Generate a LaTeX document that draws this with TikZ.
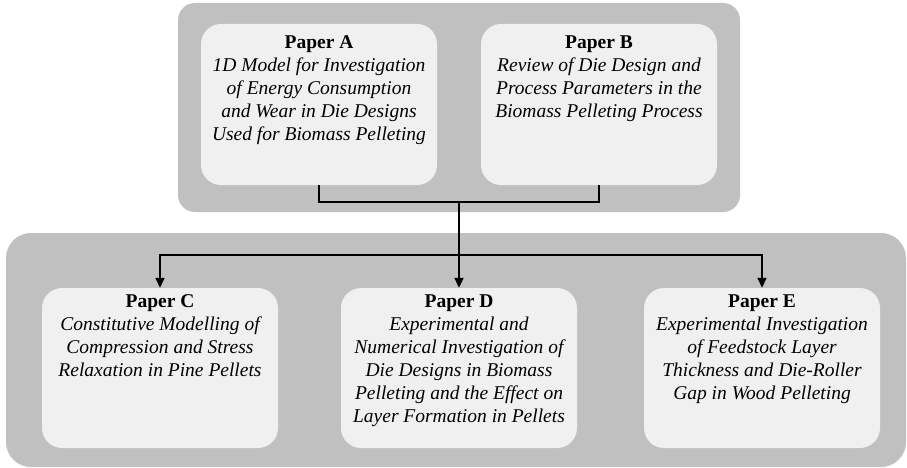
\documentclass[tikz,border=0pt]{standalone}
\usepackage{fontspec}
\setmainfont{LiberationSerif}[Extension=.ttf, UprightFont=*-Regular, BoldFont=*-Bold, ItalicFont=*-Italic, BoldItalicFont=*-BoldItalic]
\usetikzlibrary{arrows.meta}
\definecolor{contgray}{RGB}{192,192,192}
\definecolor{boxgray}{RGB}{240,240,240}
\tikzset{
  container/.style={fill=contgray, draw=none, inner sep=0pt},
  paperbox/.style={fill=boxgray, draw=none, rounded corners=20pt, minimum width=236pt, inner sep=0pt},
  ptext/.style={align=center, inner sep=0pt, anchor=north, font=\fontsize{19.5}{23}\selectfont},
  conn/.style={draw=black, line width=1.6pt},
  arr/.style={-{Triangle[length=10pt,width=9pt]}}
}
\begin{document}
\begin{tikzpicture}[x=1pt,y=-1pt]
\useasboundingbox (0,0) rectangle (907,468);
% containers
\node[container, rounded corners=17pt, minimum width=562pt, minimum height=209pt] (top) at (459,107.5) {};
\node[container, rounded corners=25pt, minimum width=900pt, minimum height=234pt] (bottom) at (456,350) {};
% paper boxes
\node[paperbox, minimum height=161pt] (A) at (319,104.5) {};
\node[paperbox, minimum height=161pt] (B) at (599,104.5) {};
\node[paperbox, minimum height=160pt] (C) at (160,368) {};
\node[paperbox, minimum height=160pt] (D) at (459,368) {};
\node[paperbox, minimum height=160pt] (E) at (762,368) {};
% texts
\node[ptext] (At) at ([yshift=-8pt]A.north) {\strut\textbf{Paper A}\\\itshape 1D Model for Investigation\\\itshape of Energy Consumption\\\itshape and Wear in Die Designs\\\itshape Used for Biomass Pelleting};
\node[ptext] (Bt) at ([yshift=-8pt]B.north) {\strut\textbf{Paper B}\\\itshape Review of Die Design and\\\itshape Process Parameters in the\\\itshape Biomass Pelleting Process};
\node[ptext] (Ct) at ([yshift=-3pt]C.north) {\strut\textbf{Paper C}\\\itshape Constitutive Modelling of\\\itshape Compression and Stress\\\itshape Relaxation in Pine Pellets};
\node[ptext] (Dt) at ([yshift=-3pt]D.north) {\strut\textbf{Paper D}\\\itshape Experimental and\\\itshape Numerical Investigation of\\\itshape Die Designs in Biomass\\\itshape Pelleting and the Effect on\\\itshape Layer Formation in Pellets};
\node[ptext] (Et) at ([yshift=-3pt]E.north) {\strut\textbf{Paper E}\\\itshape Experimental Investigation\\\itshape of Feedstock Layer\\\itshape Thickness and Die-Roller\\\itshape Gap in Wood Pelleting};
% connectors
\coordinate (jt) at (459,202);
\coordinate (jb) at (459,255);
\draw[conn] (A.south) |- (jt) -| (B.south);
\draw[conn, line width=2pt, arr] (jt) -- (D.north);
\draw[conn, arr] (jb) -| (C.north);
\draw[conn, arr] (jb) -| (E.north);
\end{tikzpicture}
\end{document}
